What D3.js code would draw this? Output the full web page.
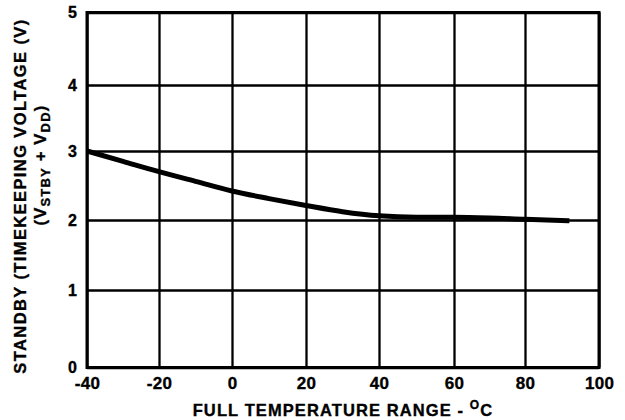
<!DOCTYPE html>
<html><head><meta charset="utf-8">
<script src="https://cdn.jsdelivr.net/npm/d3@7/dist/d3.min.js"></script>
<style>body{margin:0;background:#fff} svg{display:block} text{stroke:#000;stroke-width:0.35px}</style>
</head><body><svg id="c" width="625" height="420"></svg>
<script>
// Data
const temps = [-40,-30,-20,-10,0,10,20,30,40,50,60,70,80,92];
const volts = [3.00,2.85,2.70,2.56,2.42,2.31,2.21,2.12,2.06,2.04,2.04,2.03,2.01,1.99];
const xTicks = [-40,-20,0,20,40,60,80,100];
const yTicks = [0,1,2,3,4,5];
const xTitleMain = "FULL TEMPERATURE RANGE - ";
const xTitleSup = "O";
const xTitleEnd = "C";
const yTitle1 = "STANDBY (TIMEKEEPING VOLTAGE (V)";

const svg = d3.select("#c");
const FONT = "'Liberation Sans', Arial, Helvetica, sans-serif";
const fmt = d => String(d); // plain hyphen-minus as in the reference

// scanned grid is slightly uneven: piecewise-linear scales follow it
const x = d3.scaleLinear().domain(xTicks).range([87,159,232,306,379,454,525,599]);
const y = d3.scaleLinear().domain(yTicks).range([367.5,290,220,151,85,12.5]);

const pLeft = x(-40), pRight = x(100), pTop = y(5), pBottom = y(0);

// grid via axes
const gx = svg.append("g").attr("transform", `translate(0,${pBottom})`)
  .call(d3.axisBottom(x).tickValues(xTicks).tickSize(-(pBottom-pTop)).tickPadding(9).tickFormat(fmt));
const gy = svg.append("g").attr("transform", `translate(${pLeft},0)`)
  .call(d3.axisLeft(y).tickValues(yTicks).tickSize(-(pRight-pLeft)).tickPadding(10).tickFormat(fmt));
[gx, gy].forEach(g => {
  g.select(".domain").remove();
  g.selectAll(".tick line").attr("stroke", "#000").attr("stroke-width", 2.3);
  g.selectAll(".tick text").attr("fill", "#000")
    .style("font-family", FONT).style("font-weight", "bold");
});
gx.selectAll(".tick text").style("font-size", "17px").style("letter-spacing", "0.3px");
gy.selectAll(".tick text").style("font-size", "16px");

// frame
svg.append("rect").attr("x", pLeft).attr("y", pTop)
  .attr("width", pRight-pLeft).attr("height", pBottom-pTop)
  .attr("fill", "none").attr("stroke", "#000").attr("stroke-width", 3);

// curve
const pts = temps.map((t,i) => [t, volts[i]]);
svg.append("path").datum(pts)
  .attr("fill", "none").attr("stroke", "#000").attr("stroke-width", 5)
  .attr("d", d3.line().x(d => x(d[0])).y(d => y(d[1])).curve(d3.curveMonotoneX));

// x title
const xt = svg.append("text").attr("x", 343).attr("y", 416)
  .attr("text-anchor", "middle")
  .style("font-family", FONT).style("font-weight", "bold")
  .style("font-size", "16.5px").style("letter-spacing", "1.1px");
xt.append("tspan").text(xTitleMain);
xt.append("tspan").attr("dy", -7).style("font-size", "12px").text(xTitleSup);
xt.append("tspan").attr("dy", 7).text(xTitleEnd);

// y title, two lines
svg.append("text").attr("transform", "translate(26,196) rotate(-90)")
  .attr("text-anchor", "middle")
  .style("font-family", FONT).style("font-weight", "bold")
  .style("font-size", "16.5px").style("letter-spacing", "1.4px")
  .text(yTitle1);

const y2 = svg.append("text").attr("transform", "translate(46,165) rotate(-90)")
  .attr("text-anchor", "middle")
  .style("font-family", FONT).style("font-weight", "bold")
  .style("font-size", "16.5px").style("letter-spacing", "1.2px");
y2.append("tspan").text("(V");
y2.append("tspan").attr("dy", 4).style("font-size", "13px").text("STBY");
y2.append("tspan").attr("dy", -4).text(" + V");
y2.append("tspan").attr("dy", 4).style("font-size", "13px").text("DD");
y2.append("tspan").attr("dy", -4).text(")");
</script></body></html>
